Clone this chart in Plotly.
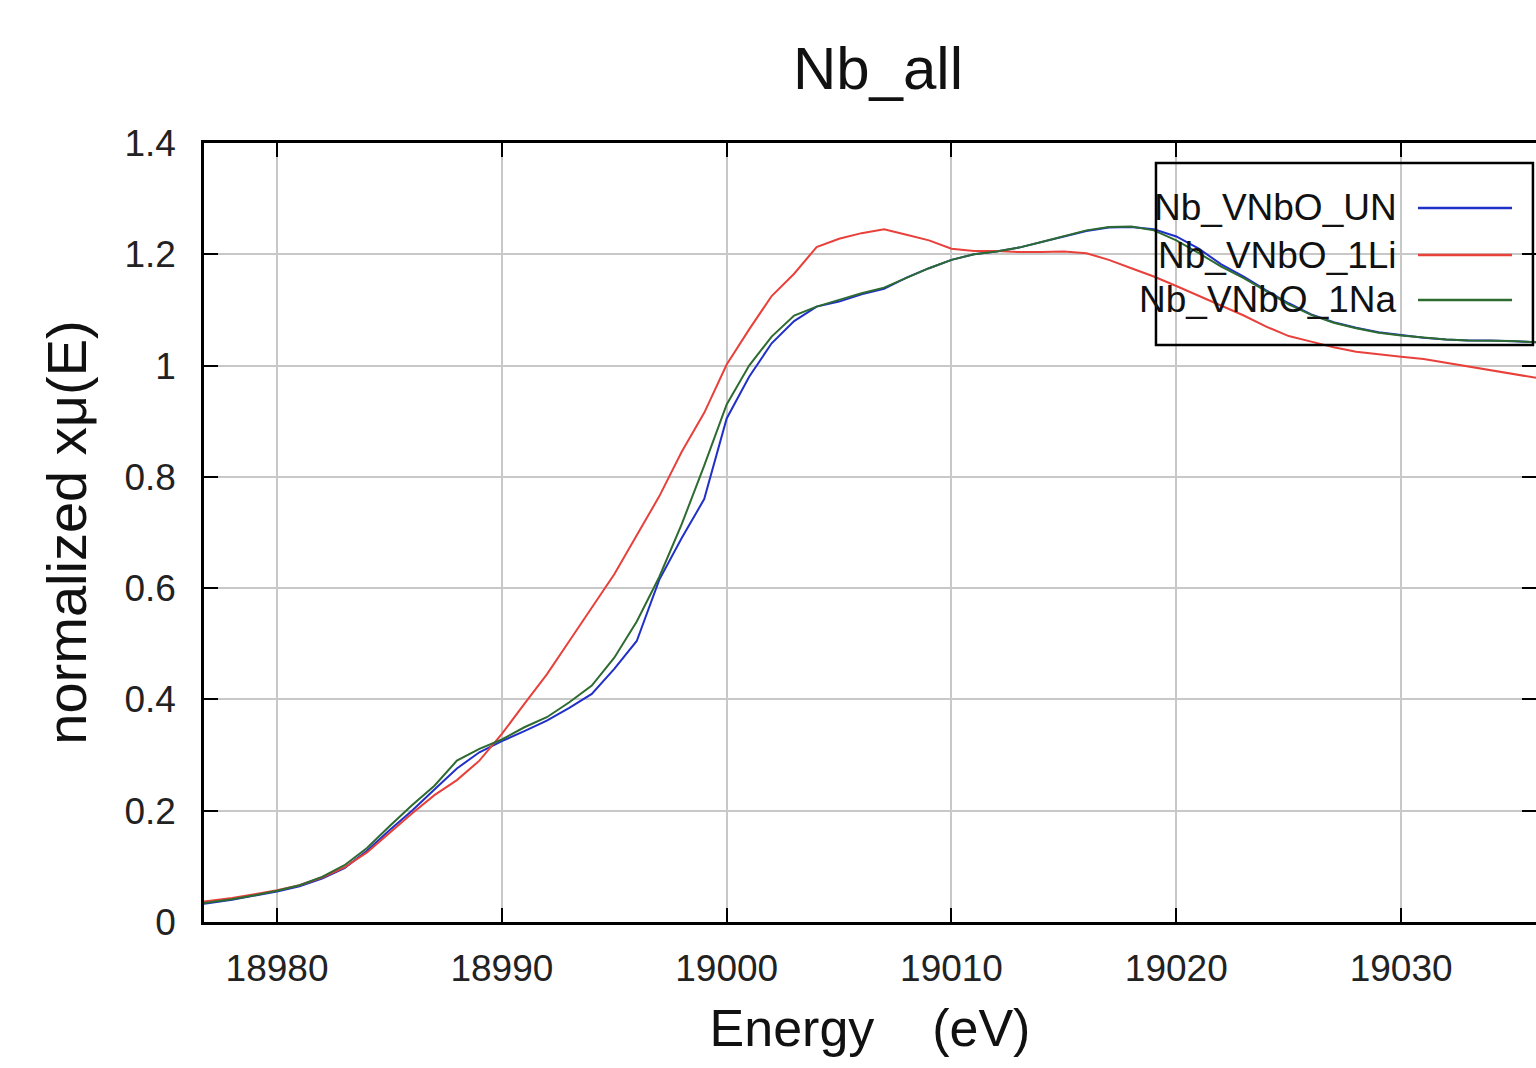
import plotly.graph_objects as go

# ---- data ----
energy = list(range(18976, 19037))

nb_vnbo_un = [
    0.030, 0.034, 0.040, 0.047, 0.055, 0.064, 0.078, 0.097, 0.128, 0.165,
    0.200, 0.238, 0.276, 0.305, 0.325, 0.343, 0.362, 0.385, 0.410, 0.455,
    0.505, 0.615, 0.690, 0.760, 0.905, 0.980, 1.040, 1.080, 1.106, 1.115,
    1.128, 1.138, 1.158, 1.175, 1.190, 1.200, 1.205, 1.212, 1.222, 1.232,
    1.242, 1.248, 1.249, 1.245, 1.232, 1.210, 1.182, 1.160, 1.135, 1.112,
    1.092, 1.078, 1.068, 1.060, 1.055, 1.050, 1.047, 1.045, 1.045, 1.044,
    1.042,
]

nb_vnbo_1li = [
    0.033, 0.038, 0.043, 0.050, 0.057, 0.066, 0.080, 0.098, 0.125, 0.160,
    0.195, 0.228, 0.255, 0.290, 0.338, 0.392, 0.445, 0.505, 0.565, 0.625,
    0.695, 0.765, 0.845, 0.915, 1.002, 1.065, 1.125, 1.165, 1.213, 1.228,
    1.238, 1.245, 1.235, 1.225, 1.210, 1.206, 1.206, 1.204, 1.204, 1.205,
    1.202, 1.190, 1.175, 1.160, 1.143, 1.125, 1.108, 1.090, 1.070, 1.053,
    1.043, 1.033, 1.025, 1.020, 1.016, 1.012, 1.005, 0.998, 0.992, 0.985,
    0.978,
]

nb_vnbo_1na = [
    0.030, 0.035, 0.041, 0.048, 0.056, 0.066, 0.081, 0.102, 0.133, 0.172,
    0.210, 0.245, 0.290, 0.311, 0.328, 0.350, 0.368, 0.395, 0.425, 0.475,
    0.540, 0.620, 0.715, 0.820, 0.930, 1.000, 1.052, 1.090, 1.106, 1.118,
    1.130, 1.140, 1.158, 1.175, 1.190, 1.200, 1.205, 1.212, 1.222, 1.233,
    1.243, 1.249, 1.250, 1.243, 1.225, 1.202, 1.178, 1.157, 1.133, 1.110,
    1.091, 1.077, 1.067, 1.059, 1.054, 1.050, 1.047, 1.045, 1.045, 1.044,
    1.042,
]

series_names = ["Nb_VNbO_UN", "Nb_VNbO_1Li", "Nb_VNbO_1Na"]
series_values = [nb_vnbo_un, nb_vnbo_1li, nb_vnbo_1na]
series_colors = ["#2030c8", "#e8403a", "#2e6b30"]

x_tickvals = [18980, 18990, 19000, 19010, 19020, 19030]
x_ticktext = ["18980", "18990", "19000", "19010", "19020", "19030"]
y_tickvals = [0, 0.2, 0.4, 0.6, 0.8, 1, 1.2, 1.4]
y_ticktext = ["0", "0.2", "0.4", "0.6", "0.8", "1", "1.2", "1.4"]

FONT = "Liberation Sans, Arial, sans-serif"

fig = go.Figure()
for name, vals, col in zip(series_names, series_values, series_colors):
    fig.add_trace(go.Scatter(x=energy, y=vals, mode="lines", name=name,
                             line=dict(color=col, width=2), showlegend=False))

axis_common = dict(
    showline=True, linecolor="black", linewidth=2.5, mirror="ticks",
    ticks="inside", ticklen=14, tickwidth=2, tickcolor="black",
    showgrid=True, gridcolor="#c8c8c8", gridwidth=2, zeroline=False,
    tickfont=dict(family=FONT, size=37, color="#222"),
)

fig.update_xaxes(
    range=[18976.75, 19036.0], tickvals=x_tickvals, ticktext=x_ticktext,
    ticklabelstandoff=12,
    title=dict(text="Energy    (eV)", font=dict(family=FONT, size=52, color="#111"), standoff=22),
    **axis_common,
)
fig.update_yaxes(
    range=[0, 1.4], tickvals=y_tickvals, ticktext=y_ticktext,
    ticklabelstandoff=18,
    title=dict(text="normalized xμ(E)", font=dict(family=FONT, size=56, color="#111"), standoff=20),
    **axis_common,
)

# gnuplot-style key: text right-aligned, sample line to its right, unfilled box
fig.add_shape(type="rect", xref="paper", yref="paper",
              x0=0.7147, x1=0.9977, y0=0.7407, y1=0.9743,
              line=dict(color="black", width=2.5), fillcolor="rgba(0,0,0,0)")
legend_rows = [0.9166, 0.8562, 0.7985]
for name, col, yy in zip(series_names, series_colors, legend_rows):
    fig.add_annotation(xref="paper", yref="paper", x=0.8970, y=yy,
                       text=name, showarrow=False, xanchor="right", yanchor="middle",
                       font=dict(family=FONT, size=37, color="#111"))
    fig.add_shape(type="line", xref="paper", yref="paper",
                  x0=0.9114, x1=0.9820, y0=yy, y1=yy,
                  line=dict(color=col, width=2.5))

fig.update_layout(
    width=1536, height=1068,
    margin=dict(l=204, r=0, t=143, b=146, autoexpand=False),
    paper_bgcolor="white", plot_bgcolor="white",
    title=dict(text="Nb_all", x=0.5716, xref="container", xanchor="center",
               y=1 - 68 / 1068, yref="container", yanchor="middle",
               font=dict(family=FONT, size=60, color="#111")),
)

fig.write_html("out.html")
